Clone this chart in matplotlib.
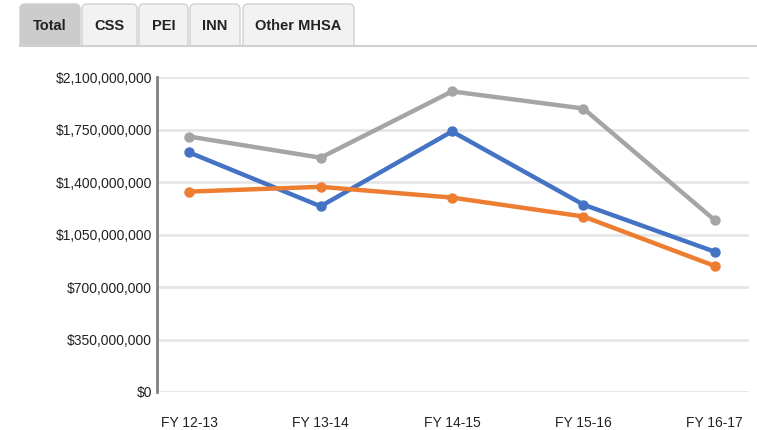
import matplotlib.pyplot as plt
from matplotlib.patches import FancyBboxPatch, Rectangle
from matplotlib.ticker import FuncFormatter

plt.rcParams['font.family'] = ['Liberation Sans', 'DejaVu Sans']

# datos
anios = ['FY 12-13', 'FY 13-14', 'FY 14-15', 'FY 15-16', 'FY 16-17']
serie_gris = [1703e6, 1562e6, 2004e6, 1890e6, 1145e6]
serie_azul = [1597e6, 1238e6, 1737e6, 1249e6, 935e6]
serie_naranja = [1336e6, 1368e6, 1296e6, 1170e6, 840e6]
ticks_y = [0, 350e6, 700e6, 1050e6, 1400e6, 1750e6, 2100e6]
pestanas = ['Total', 'CSS', 'PEI', 'INN', 'Other MHSA']
pestanas_x = [(20, 80), (82, 137), (139, 188), (190, 240), (243, 354)]

W, H = 757, 430
fig = plt.figure(figsize=(W / 100, H / 100), dpi=100)

# capa de pestanas en coordenadas de pixel
capa = fig.add_axes([0, 0, 1, 1])
capa.set_xlim(0, W)
capa.set_ylim(H, 0)
capa.axis('off')
for i, (nombre, (x0, x1)) in enumerate(zip(pestanas, pestanas_x)):
    color = '#cccccc' if i == 0 else '#f2f2f2'
    borde = '#cccccc' if i == 0 else '#d0d0d0'
    capa.add_patch(FancyBboxPatch((x0, 4), x1 - x0, 46, boxstyle='round,pad=0,rounding_size=5',
                                  facecolor=color, edgecolor=borde, linewidth=1))
    capa.text((x0 + x1) / 2, 26, nombre, ha='center', va='center', fontsize=10.5,
              fontweight='bold', color='#222222')
capa.add_patch(Rectangle((0, 45), W, 10, facecolor='white', edgecolor='none'))
capa.plot([20, W], [45.5, 45.5], color='#d0d0d0', linewidth=1.5)

ax = fig.add_axes([157 / W, 1 - 392 / H, (749 - 157) / W, (392 - 77) / H])
x = range(len(anios))
ax.plot(x, serie_gris, color='#a5a5a5', linewidth=3.2, marker='o', markersize=6.5, zorder=3)
ax.plot(x, serie_azul, color='#4472c4', linewidth=3.2, marker='o', markersize=6.5, zorder=4)
ax.plot(x, serie_naranja, color='#ed7d31', linewidth=3.2, marker='o', markersize=6.5, zorder=5)

ax.set_xlim(-0.245, 4.26)
ax.set_ylim(0, 2.1e9)
ax.set_xticks(list(x))
ax.set_xticklabels(anios)
ax.set_yticks(ticks_y)
ax.yaxis.set_major_formatter(FuncFormatter(lambda v, p: '${:,.0f}'.format(v)))
ax.tick_params(length=0, labelsize=10, colors='#222222')
ax.tick_params(axis='x', pad=17)
ax.tick_params(axis='y', pad=3.5)
ax.grid(axis='y', color='#e6e6e6', linewidth=2)
ax.set_axisbelow(True)
for lado in ['top', 'right', 'bottom']:
    ax.spines[lado].set_visible(False)
ax.spines['left'].set_color('#808080')
ax.spines['left'].set_linewidth(2)
ax.spines['left'].set_zorder(6)

fig.savefig('out.png', dpi=100)
